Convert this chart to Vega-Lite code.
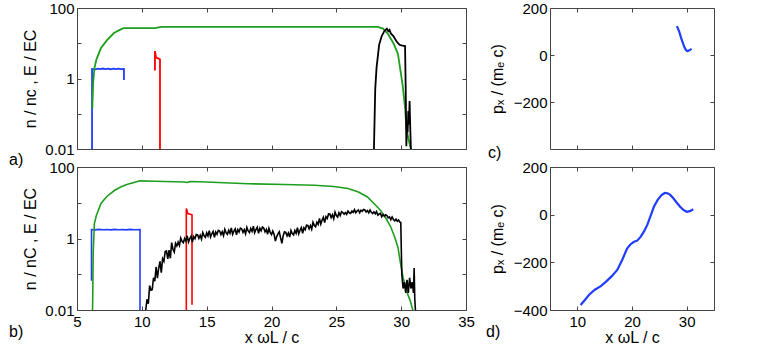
{
  "$schema": "https://vega.github.io/schema/vega-lite/v6.json",
  "padding": {"left": 8, "top": 0, "right": 5, "bottom": 0},
  "config": {
    "font": "Liberation Sans",
    "view": {"stroke": "#444", "strokeWidth": 1},
    "axis": {"grid": false, "domain": false, "tickColor": "#444", "tickSize": -4, "labelFontSize": 15, "labelColor": "black", "titleFontSize": 16, "titleFontWeight": "normal", "titleColor": "black", "labelFlush": false, "labelOverlap": false},
    "title": {"fontSize": 16, "fontWeight": "normal", "color": "black", "anchor": "start", "orient": "bottom", "frame": "group"},
    "line": {"strokeWidth": 1.8, "clip": true}
  },
  "datasets": {
    "a": [
      {"s":"blue","x":6.16,"y":0.01},{"s":"blue","x":6.16,"y":1.86},{"s":"blue","x":6.4,"y":1.82},{"s":"blue","x":6.6,"y":1.9},{"s":"blue","x":6.8,"y":1.84},{"s":"blue","x":7.0,"y":1.92},{"s":"blue","x":7.2,"y":1.85},{"s":"blue","x":7.4,"y":1.9},{"s":"blue","x":7.6,"y":1.83},{"s":"blue","x":7.8,"y":1.91},{"s":"blue","x":8.0,"y":1.85},{"s":"blue","x":8.2,"y":1.9},{"s":"blue","x":8.4,"y":1.84},{"s":"blue","x":8.62,"y":1.86},{"s":"blue","x":8.62,"y":0.9},
      {"s":"green","x":6.18,"y":0.14},{"s":"green","x":6.25,"y":0.8},{"s":"green","x":6.35,"y":2},{"s":"green","x":6.5,"y":3.5},{"s":"green","x":6.85,"y":7.3},{"s":"green","x":7.3,"y":12},{"s":"green","x":7.85,"y":19.5},{"s":"green","x":8.3,"y":24},{"s":"green","x":8.6,"y":27},{"s":"green","x":11.0,"y":27},{"s":"green","x":11.5,"y":29},{"s":"green","x":20,"y":29},{"s":"green","x":28.2,"y":29},{"s":"green","x":28.6,"y":26},{"s":"green","x":29.0,"y":18},{"s":"green","x":29.4,"y":10},{"s":"green","x":29.75,"y":5},{"s":"green","x":30.1,"y":0.7},{"s":"green","x":30.3,"y":0.15},{"s":"green","x":30.4,"y":0.04},{"s":"green","x":30.55,"y":0.02},{"s":"green","x":30.75,"y":0.01},
      {"s":"red","x":11.01,"y":1.7},{"s":"red","x":11.01,"y":6.0},{"s":"red","x":11.1,"y":3.9},{"s":"red","x":11.2,"y":3.8},{"s":"red","x":11.4,"y":3.5},{"s":"red","x":11.4,"y":0.01},
      {"s":"black","x":27.9,"y":0.01},{"s":"black","x":28.0,"y":0.5},{"s":"black","x":28.1,"y":2},{"s":"black","x":28.3,"y":9},{"s":"black","x":28.5,"y":16},{"s":"black","x":28.7,"y":22},{"s":"black","x":28.8,"y":24},{"s":"black","x":28.9,"y":26},{"s":"black","x":29.0,"y":22},{"s":"black","x":29.1,"y":24},{"s":"black","x":29.2,"y":19},{"s":"black","x":29.4,"y":16},{"s":"black","x":29.6,"y":12},{"s":"black","x":29.75,"y":10},{"s":"black","x":29.9,"y":9},{"s":"black","x":30.1,"y":8.5},{"s":"black","x":30.3,"y":8.3},{"s":"black","x":30.35,"y":0.5},{"s":"black","x":30.4,"y":0.012},{"s":"black","x":30.45,"y":0.05},{"s":"black","x":30.5,"y":0.03},{"s":"black","x":30.55,"y":0.12},{"s":"black","x":30.6,"y":0.05},{"s":"black","x":30.65,"y":0.23},{"s":"black","x":30.7,"y":0.04},{"s":"black","x":30.75,"y":0.01}
    ],
    "b": [
      {"s":"blue","x":6.12,"y":0.066},{"s":"blue","x":6.12,"y":1.78},{"s":"blue","x":6.4,"y":1.74},{"s":"blue","x":6.7,"y":1.8},{"s":"blue","x":7.0,"y":1.75},{"s":"blue","x":7.3,"y":1.79},{"s":"blue","x":7.6,"y":1.74},{"s":"blue","x":7.9,"y":1.8},{"s":"blue","x":8.2,"y":1.75},{"s":"blue","x":8.5,"y":1.79},{"s":"blue","x":8.8,"y":1.74},{"s":"blue","x":9.1,"y":1.8},{"s":"blue","x":9.4,"y":1.75},{"s":"blue","x":9.86,"y":1.77},{"s":"blue","x":9.86,"y":0.01},
      {"s":"green","x":6.2,"y":0.01},{"s":"green","x":6.25,"y":0.4},{"s":"green","x":6.34,"y":2.6},{"s":"green","x":6.5,"y":4.5},{"s":"green","x":6.85,"y":9.6},{"s":"green","x":7.3,"y":15},{"s":"green","x":7.88,"y":22},{"s":"green","x":8.4,"y":28},{"s":"green","x":8.9,"y":33},{"s":"green","x":9.4,"y":37},{"s":"green","x":9.86,"y":41},{"s":"green","x":11,"y":40},{"s":"green","x":13.3,"y":38},{"s":"green","x":13.5,"y":37},{"s":"green","x":13.7,"y":39},{"s":"green","x":14.5,"y":38.5},{"s":"green","x":18.2,"y":34},{"s":"green","x":21,"y":32.5},{"s":"green","x":23.3,"y":31},{"s":"green","x":24.8,"y":28.5},{"s":"green","x":25.9,"y":25},{"s":"green","x":26.7,"y":20},{"s":"green","x":27.4,"y":14.5},{"s":"green","x":27.9,"y":9.5},{"s":"green","x":28.4,"y":6.2},{"s":"green","x":28.8,"y":3.8},{"s":"green","x":29.2,"y":2.1},{"s":"green","x":29.5,"y":1.1},{"s":"green","x":29.75,"y":0.57},{"s":"green","x":29.95,"y":0.2},{"s":"green","x":30.15,"y":0.08},{"s":"green","x":30.35,"y":0.045},{"s":"green","x":30.5,"y":0.028},{"s":"green","x":30.7,"y":0.018},{"s":"green","x":30.9,"y":0.01},
      {"s":"red","x":13.43,"y":0.01},{"s":"red","x":13.43,"y":6.9},{"s":"red","x":13.55,"y":5.0},{"s":"red","x":13.87,"y":4.6},{"s":"red","x":13.87,"y":0.014},
      {"s":"black","x":10.3,"y":0.01},{"s":"black","x":10.4,"y":0.02},{"s":"black","x":10.5,"y":0.015},{"s":"black","x":10.6,"y":0.048},{"s":"black","x":10.7,"y":0.036},{"s":"black","x":10.8,"y":0.037},{"s":"black","x":10.9,"y":0.08},{"s":"black","x":11.0,"y":0.064},{"s":"black","x":11.1,"y":0.16},{"s":"black","x":11.2,"y":0.078},{"s":"black","x":11.3,"y":0.147},{"s":"black","x":11.4,"y":0.23},{"s":"black","x":11.5,"y":0.11},{"s":"black","x":11.6,"y":0.27},{"s":"black","x":11.7,"y":0.23},{"s":"black","x":11.8,"y":0.43},{"s":"black","x":11.9,"y":0.45},{"s":"black","x":12.0,"y":0.27},{"s":"black","x":12.1,"y":0.47},{"s":"black","x":12.2,"y":0.28},{"s":"black","x":12.3,"y":0.77},{"s":"black","x":12.4,"y":0.5},{"s":"black","x":12.5,"y":0.42},{"s":"black","x":12.6,"y":0.73},{"s":"black","x":12.7,"y":0.62},{"s":"black","x":12.8,"y":0.79},{"s":"black","x":12.9,"y":0.64},{"s":"black","x":13.0,"y":1.02},{"s":"black","x":13.1,"y":0.83},{"s":"black","x":13.2,"y":0.76},{"s":"black","x":13.3,"y":1.0},{"s":"black","x":13.4,"y":0.84},{"s":"black","x":13.5,"y":1.19},{"s":"black","x":13.6,"y":0.8},{"s":"black","x":13.7,"y":0.99},{"s":"black","x":13.8,"y":1.16},{"s":"black","x":13.9,"y":0.8},{"s":"black","x":14.0,"y":1.13},{"s":"black","x":14.1,"y":0.99},{"s":"black","x":14.2,"y":1.3},{"s":"black","x":14.3,"y":1.26},{"s":"black","x":14.4,"y":1.01},{"s":"black","x":14.5,"y":1.23},{"s":"black","x":14.6,"y":0.96},{"s":"black","x":14.7,"y":1.47},{"s":"black","x":14.8,"y":1.19},{"s":"black","x":14.9,"y":1.08},{"s":"black","x":15.0,"y":1.43},{"s":"black","x":15.1,"y":1.18},{"s":"black","x":15.2,"y":1.66},{"s":"black","x":15.3,"y":1.1},{"s":"black","x":15.4,"y":1.36},{"s":"black","x":15.5,"y":1.58},{"s":"black","x":15.6,"y":1.08},{"s":"black","x":15.7,"y":1.52},{"s":"black","x":15.8,"y":1.31},{"s":"black","x":15.9,"y":1.69},{"s":"black","x":16.0,"y":1.62},{"s":"black","x":16.1,"y":1.29},{"s":"black","x":16.2,"y":1.55},{"s":"black","x":16.3,"y":1.2},{"s":"black","x":16.4,"y":1.81},{"s":"black","x":16.5,"y":1.45},{"s":"black","x":16.6,"y":1.31},{"s":"black","x":16.7,"y":1.71},{"s":"black","x":16.8,"y":1.41},{"s":"black","x":16.9,"y":1.98},{"s":"black","x":17.0,"y":1.31},{"s":"black","x":17.1,"y":1.61},{"s":"black","x":17.2,"y":1.86},{"s":"black","x":17.3,"y":1.27},{"s":"black","x":17.4,"y":1.77},{"s":"black","x":17.5,"y":1.52},{"s":"black","x":17.6,"y":1.96},{"s":"black","x":17.7,"y":1.87},{"s":"black","x":17.8,"y":1.48},{"s":"black","x":17.9,"y":1.77},{"s":"black","x":18.0,"y":1.36},{"s":"black","x":18.1,"y":2.05},{"s":"black","x":18.2,"y":1.63},{"s":"black","x":18.3,"y":1.47},{"s":"black","x":18.4,"y":1.91},{"s":"black","x":18.5,"y":1.58},{"s":"black","x":18.6,"y":2.2},{"s":"black","x":18.7,"y":1.45},{"s":"black","x":18.8,"y":1.78},{"s":"black","x":18.9,"y":2.06},{"s":"black","x":19.0,"y":1.4},{"s":"black","x":19.1,"y":1.93},{"s":"black","x":19.2,"y":1.64},{"s":"black","x":19.3,"y":2.09},{"s":"black","x":19.4,"y":1.97},{"s":"black","x":19.5,"y":1.54},{"s":"black","x":19.6,"y":1.79},{"s":"black","x":19.7,"y":1.32},{"s":"black","x":19.8,"y":1.92},{"s":"black","x":19.9,"y":1.47},{"s":"black","x":20.0,"y":1.28},{"s":"black","x":20.1,"y":1.62},{"s":"black","x":20.2,"y":1.3},{"s":"black","x":20.3,"y":0.85},{"s":"black","x":20.4,"y":1.13},{"s":"black","x":20.5,"y":1.35},{"s":"black","x":20.6,"y":1.54},{"s":"black","x":20.7,"y":1.04},{"s":"black","x":20.8,"y":0.73},{"s":"black","x":20.9,"y":1.2},{"s":"black","x":21.0,"y":1.53},{"s":"black","x":21.1,"y":1.48},{"s":"black","x":21.2,"y":1.18},{"s":"black","x":21.3,"y":1.43},{"s":"black","x":21.4,"y":1.1},{"s":"black","x":21.5,"y":1.68},{"s":"black","x":21.6,"y":1.37},{"s":"black","x":21.7,"y":1.26},{"s":"black","x":21.8,"y":1.67},{"s":"black","x":21.9,"y":1.4},{"s":"black","x":22.0,"y":2.0},{"s":"black","x":22.1,"y":1.35},{"s":"black","x":22.2,"y":1.7},{"s":"black","x":22.3,"y":2.01},{"s":"black","x":22.4,"y":1.4},{"s":"black","x":22.5,"y":2.0},{"s":"black","x":22.6,"y":1.77},{"s":"black","x":22.7,"y":2.35},{"s":"black","x":22.8,"y":2.31},{"s":"black","x":22.9,"y":1.87},{"s":"black","x":23.0,"y":2.31},{"s":"black","x":23.1,"y":1.82},{"s":"black","x":23.2,"y":2.83},{"s":"black","x":23.3,"y":2.32},{"s":"black","x":23.4,"y":2.14},{"s":"black","x":23.5,"y":2.86},{"s":"black","x":23.6,"y":2.48},{"s":"black","x":23.7,"y":3.65},{"s":"black","x":23.8,"y":2.53},{"s":"black","x":23.9,"y":3.24},{"s":"black","x":24.0,"y":3.91},{"s":"black","x":24.1,"y":2.79},{"s":"black","x":24.2,"y":4.06},{"s":"black","x":24.3,"y":3.62},{"s":"black","x":24.4,"y":4.86},{"s":"black","x":24.5,"y":4.82},{"s":"black","x":24.6,"y":3.84},{"s":"black","x":24.7,"y":4.64},{"s":"black","x":24.8,"y":3.58},{"s":"black","x":24.9,"y":5.45},{"s":"black","x":25.0,"y":4.37},{"s":"black","x":25.1,"y":3.98},{"s":"black","x":25.2,"y":5.24},{"s":"black","x":25.3,"y":4.36},{"s":"black","x":25.4,"y":5.6},{"s":"black","x":25.5,"y":5.3},{"s":"black","x":25.6,"y":4.78},{"s":"black","x":25.7,"y":5.31},{"s":"black","x":25.8,"y":4.72},{"s":"black","x":25.9,"y":5.85},{"s":"black","x":26.0,"y":5.24},{"s":"black","x":26.1,"y":5.04},{"s":"black","x":26.2,"y":5.84},{"s":"black","x":26.3,"y":5.36},{"s":"black","x":26.4,"y":6.41},{"s":"black","x":26.5,"y":5.28},{"s":"black","x":26.6,"y":5.84},{"s":"black","x":26.7,"y":6.29},{"s":"black","x":26.8,"y":5.27},{"s":"black","x":26.9,"y":6.2},{"s":"black","x":27.0,"y":5.76},{"s":"black","x":27.1,"y":6.5},{"s":"black","x":27.2,"y":6.28},{"s":"black","x":27.3,"y":5.53},{"s":"black","x":27.4,"y":6.02},{"s":"black","x":27.5,"y":5.22},{"s":"black","x":27.6,"y":6.25},{"s":"black","x":27.7,"y":5.39},{"s":"black","x":27.8,"y":5.0},{"s":"black","x":27.9,"y":5.59},{"s":"black","x":28.0,"y":4.94},{"s":"black","x":28.1,"y":5.69},{"s":"black","x":28.2,"y":4.51},{"s":"black","x":28.3,"y":4.84},{"s":"black","x":28.4,"y":5.05},{"s":"black","x":28.5,"y":4.09},{"s":"black","x":28.6,"y":4.66},{"s":"black","x":28.7,"y":4.19},{"s":"black","x":28.8,"y":4.62},{"s":"black","x":28.9,"y":4.37},{"s":"black","x":29.0,"y":3.76},{"s":"black","x":29.1,"y":4.0},{"s":"black","x":29.2,"y":3.38},{"s":"black","x":29.3,"y":4.0},{"s":"black","x":29.4,"y":3.41},{"s":"black","x":29.5,"y":3.13},{"s":"black","x":29.6,"y":3.47},{"s":"black","x":29.7,"y":3.04},{"s":"black","x":29.8,"y":3.29},{"s":"black","x":29.9,"y":2.88},{"s":"black","x":29.97,"y":2.8},{"s":"black","x":30.05,"y":0.1},{"s":"black","x":30.15,"y":0.04},{"s":"black","x":30.25,"y":0.06},{"s":"black","x":30.35,"y":0.03},{"s":"black","x":30.45,"y":0.07},{"s":"black","x":30.55,"y":0.03},{"s":"black","x":30.65,"y":0.08},{"s":"black","x":30.75,"y":0.04},{"s":"black","x":30.85,"y":0.06},{"s":"black","x":30.95,"y":0.03},{"s":"black","x":31.0,"y":0.15},{"s":"black","x":31.05,"y":0.02},{"s":"black","x":31.1,"y":0.01}
    ],
    "c": [
      {"x":28.2,"y":123},{"x":28.5,"y":108},{"x":28.7,"y":95},{"x":28.95,"y":75},{"x":29.2,"y":58},{"x":29.4,"y":45},{"x":29.6,"y":33},{"x":29.8,"y":24},{"x":30.0,"y":18},{"x":30.2,"y":17},{"x":30.4,"y":19},{"x":30.6,"y":22},{"x":30.9,"y":26}
    ],
    "d": [
      {"x":10.6,"y":-379},{"x":11.3,"y":-360},{"x":12.2,"y":-335},{"x":13.2,"y":-315},{"x":14.3,"y":-300},{"x":15.3,"y":-280},{"x":16.3,"y":-258},{"x":17.3,"y":-232},{"x":18.2,"y":-190},{"x":19.1,"y":-142},{"x":19.7,"y":-125},{"x":20.3,"y":-115},{"x":21.0,"y":-108},{"x":21.6,"y":-92},{"x":22.2,"y":-70},{"x":22.8,"y":-43},{"x":23.4,"y":-5},{"x":24.0,"y":33},{"x":24.7,"y":62},{"x":25.4,"y":82},{"x":26.0,"y":91},{"x":26.5,"y":90},{"x":27.0,"y":83},{"x":27.6,"y":68},{"x":28.2,"y":50},{"x":28.8,"y":33},{"x":29.4,"y":20},{"x":30.0,"y":12},{"x":30.6,"y":15},{"x":31.2,"y":23}
    ]
  },
  "concat": [
    {
      "width": 389, "height": 141,
      "title": {"text": "a)", "dx": -68, "offset": -5},
      "data": {"name": "a"},
      "layer": [
        {"mark": "line", "encoding": {
          "x": {"field": "x", "type": "quantitative", "scale": {"domain": [5, 35], "nice": false}, "axis": {"values": [5,10,15,20,25,30,35], "labels": false, "title": null}},
          "y": {"field": "y", "type": "quantitative", "scale": {"type": "log", "domain": [0.01, 100], "nice": false}, "axis": {"values": [0.01,0.1,1,10,100], "format": "~g", "labelExpr": "datum.value == 0.1 || datum.value == 10 ? '' : datum.label", "labelPadding": 7, "title": "n / nc ,  E / EC", "titlePadding": 6}},
          "color": {"field": "s", "type": "nominal", "scale": {"domain": ["blue","green","red","black"], "range": ["#1f3dff","#1e9e1e","#ff0000","#000000"]}, "legend": null},
          "order": {"value": null}
        }},
        {"mark": {"type": "point", "opacity": 0}, "encoding": {
          "x": {"field": "x", "type": "quantitative", "axis": {"orient": "top", "values": [5,10,15,20,25,30,35], "labels": false, "title": null}},
          "y": {"field": "y", "type": "quantitative", "axis": {"orient": "right", "values": [0.01,0.1,1,10,100], "labels": false, "title": null}}
        }}
      ],
      "resolve": {"axis": {"x": "independent", "y": "independent"}}
    },
    {
      "width": 164, "height": 141,
      "title": {"text": "c)", "dx": -62, "offset": -5},
      "data": {"name": "c"},
      "layer": [
        {"mark": {"type": "line", "strokeWidth": 2.2}, "encoding": {
          "x": {"field": "x", "type": "quantitative", "scale": {"domain": [5, 35], "nice": false}, "axis": {"values": [10,20,30], "labels": false, "title": null}},
          "y": {"field": "y", "type": "quantitative", "scale": {"domain": [-400, 200], "nice": false}, "axis": {"values": [-200,0,200], "labelPadding": 7, "title": "pₓ / (mₑ c)", "titlePadding": 8}},
          "color": {"value": "#1f3dff"},
          "order": {"value": null}
        }},
        {"mark": {"type": "point", "opacity": 0}, "encoding": {
          "x": {"field": "x", "type": "quantitative", "axis": {"orient": "top", "values": [10,20,30], "labels": false, "title": null}},
          "y": {"field": "y", "type": "quantitative", "axis": {"orient": "right", "values": [-400,-200,0,200], "labels": false, "title": null}}
        }}
      ],
      "resolve": {"axis": {"x": "independent", "y": "independent"}}
    },
    {
      "width": 389, "height": 143,
      "title": {"text": "b)", "dx": -68, "offset": -21},
      "data": {"name": "b"},
      "layer": [
        {"mark": {"type": "line", "strokeWidth": 1.6}, "encoding": {
          "x": {"field": "x", "type": "quantitative", "scale": {"domain": [5, 35], "nice": false}, "axis": {"values": [5,10,15,20,25,30,35], "labelPadding": 8, "title": "x ωL / c", "titlePadding": 0}},
          "y": {"field": "y", "type": "quantitative", "scale": {"type": "log", "domain": [0.01, 100], "nice": false}, "axis": {"values": [0.01,0.1,1,10,100], "format": "~g", "labelExpr": "datum.value == 0.1 || datum.value == 10 ? '' : datum.label", "labelPadding": 7, "title": "n / nC ,  E / EC", "titlePadding": 6}},
          "color": {"field": "s", "type": "nominal", "scale": {"domain": ["blue","green","red","black"], "range": ["#1f3dff","#1e9e1e","#ff0000","#000000"]}, "legend": null},
          "order": {"value": null}
        }},
        {"mark": {"type": "point", "opacity": 0}, "encoding": {
          "x": {"field": "x", "type": "quantitative", "axis": {"orient": "top", "values": [5,10,15,20,25,30,35], "labels": false, "title": null}},
          "y": {"field": "y", "type": "quantitative", "axis": {"orient": "right", "values": [0.01,0.1,1,10,100], "labels": false, "title": null}}
        }}
      ],
      "resolve": {"axis": {"x": "independent", "y": "independent"}}
    },
    {
      "width": 164, "height": 143,
      "title": {"text": "d)", "dx": -64, "offset": -21},
      "data": {"name": "d"},
      "layer": [
        {"mark": {"type": "line", "strokeWidth": 2.2}, "encoding": {
          "x": {"field": "x", "type": "quantitative", "scale": {"domain": [5, 35], "nice": false}, "axis": {"values": [10,20,30], "labelPadding": 8, "title": "x ωL / c", "titlePadding": 0}},
          "y": {"field": "y", "type": "quantitative", "scale": {"domain": [-400, 200], "nice": false}, "axis": {"values": [-400,-200,0,200], "labelPadding": 7, "title": "pₓ / (mₑ c)", "titlePadding": 8}},
          "color": {"value": "#1f3dff"},
          "order": {"value": null}
        }},
        {"mark": {"type": "point", "opacity": 0}, "encoding": {
          "x": {"field": "x", "type": "quantitative", "axis": {"orient": "top", "values": [10,20,30], "labels": false, "title": null}},
          "y": {"field": "y", "type": "quantitative", "axis": {"orient": "right", "values": [-400,-200,0,200], "labels": false, "title": null}}
        }}
      ],
      "resolve": {"axis": {"x": "independent", "y": "independent"}}
    }
  ],
  "columns": 2,
  "bounds": "flush",
  "align": "each",
  "spacing": {"row": 18, "column": 84}
}
